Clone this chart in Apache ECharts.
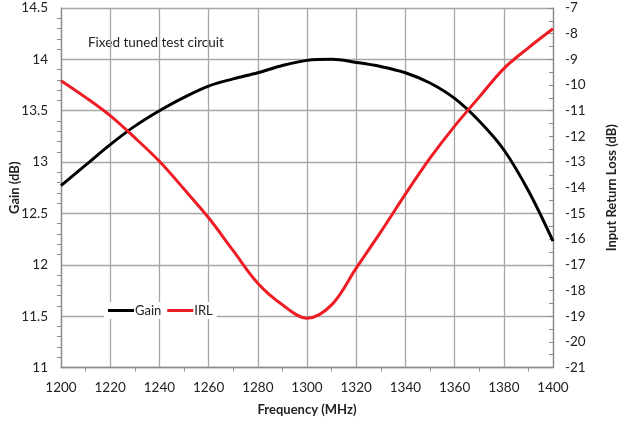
<!DOCTYPE html>
<html>
<head>
<meta charset="utf-8">
<script src="https://cdn.jsdelivr.net/npm/echarts@6/dist/echarts.min.js"></script>
<style>
  html, body { margin: 0; padding: 0; background: #fff; }
  #chart { width: 618px; height: 423px; }
</style>
</head>
<body>
<div id="chart"></div>
<script>
// frequency points (MHz)
var freq = [1200, 1210, 1220, 1230, 1240, 1250, 1260, 1270, 1280, 1290, 1300, 1310, 1320, 1330, 1340, 1350, 1360, 1370, 1380, 1390, 1400];
// gain (dB), left axis
var gain = [12.77, 12.97, 13.17, 13.35, 13.50, 13.63, 13.74, 13.81, 13.87, 13.94, 13.99, 14.00, 13.97, 13.93, 13.87, 13.77, 13.62, 13.40, 13.12, 12.72, 12.23];
// input return loss (dB), right axis
var irl = [-9.83, -10.48, -11.19, -12.05, -12.97, -14.05, -15.17, -16.45, -17.72, -18.56, -19.08, -18.56, -17.13, -15.72, -14.25, -12.85, -11.60, -10.47, -9.36, -8.55, -7.81];

function pairs(xs, ys) {
  var out = [];
  for (var i = 0; i < xs.length; i++) out.push([xs[i], ys[i]]);
  return out;
}

var font = 'Lato, "Liberation Sans", sans-serif';
var axisGray = '#8c8c8c';
var gridGray = '#a6a6a6';

var myChart = echarts.init(document.getElementById('chart'), null, { renderer: 'canvas' });

var option = {
  backgroundColor: '#fff',
  animation: false,
  textStyle: { fontFamily: font },
  grid: { left: 61, right: 65, top: 8, bottom: 55.5, containLabel: false, outerBoundsMode: 'none' },
  legend: {
    left: 104, top: 302,
    backgroundColor: '#fff',
    padding: [2, 4, 2, 4],
    itemGap: 6,
    itemWidth: 26, itemHeight: 3,
    icon: 'rect',
    textStyle: { fontFamily: font, fontSize: 13, color: '#222', padding: [0, 0, 0, -4] },
    data: ['Gain', 'IRL']
  },
  graphic: [{
    type: 'text', left: 88, top: 36,
    style: { text: 'Fixed tuned test circuit', font: '13.5px ' + font, fill: '#222' }
  }],
  xAxis: {
    type: 'value', min: 1200, max: 1400, interval: 20,
    name: 'Frequency (MHz)', nameLocation: 'middle', nameGap: 36,
    nameTextStyle: { fontFamily: font, fontWeight: 'bold', fontSize: 13, color: '#222' },
    axisLine: { lineStyle: { color: axisGray, width: 1.3 } },
    axisTick: { show: false },
    minorTick: { show: true, splitNumber: 2, length: 4, lineStyle: { color: axisGray } },
    axisLabel: { fontFamily: font, fontSize: 13.5, color: '#222', margin: 13,
      formatter: function (v) { return String(v); } },
    splitLine: { show: true, lineStyle: { color: gridGray, width: 1.3 } }
  },
  yAxis: [{
    type: 'value', min: 11, max: 14.5, interval: 0.5,
    name: 'Gain (dB)', nameLocation: 'middle', nameGap: 40, nameRotate: 90,
    nameMoveOverlap: false,
    nameTextStyle: { fontFamily: font, fontWeight: 'bold', fontSize: 13, color: '#222' },
    axisLine: { show: true, lineStyle: { color: axisGray, width: 1.3 } },
    axisTick: { show: false },
    minorTick: { show: true, splitNumber: 5, length: 4, lineStyle: { color: axisGray } },
    axisLabel: { fontFamily: font, fontSize: 13.5, color: '#222', margin: 13 },
    splitLine: { show: true, lineStyle: { color: gridGray, width: 1.3 } }
  }, {
    type: 'value', min: -21, max: -7, interval: 1, position: 'right',
    name: 'Input Return Loss (dB)', nameLocation: 'middle', nameGap: 52, nameRotate: 90,
    nameMoveOverlap: false,
    nameTextStyle: { fontFamily: font, fontWeight: 'bold', fontSize: 13, color: '#222' },
    axisLine: { show: true, lineStyle: { color: axisGray, width: 1.3 } },
    axisTick: { show: true, inside: true, length: 4, lineStyle: { color: axisGray } },
    minorTick: { show: true, splitNumber: 2, length: 4, lineStyle: { color: axisGray } },
    axisLabel: { fontFamily: font, fontSize: 13.5, color: '#222', margin: 12 },
    splitLine: { show: false }
  }],
  series: [{
    name: 'Gain', type: 'line', yAxisIndex: 0,
    data: pairs(freq, gain), smooth: 0.35, showSymbol: false,
    lineStyle: { color: '#000', width: 3 }, itemStyle: { color: '#000' }
  }, {
    name: 'IRL', type: 'line', yAxisIndex: 1,
    data: pairs(freq, irl), smooth: 0.35, showSymbol: false,
    lineStyle: { color: '#ee1c25', width: 3 }, itemStyle: { color: '#ee1c25' }
  }]
};

myChart.setOption(option);
</script>
</body>
</html>
